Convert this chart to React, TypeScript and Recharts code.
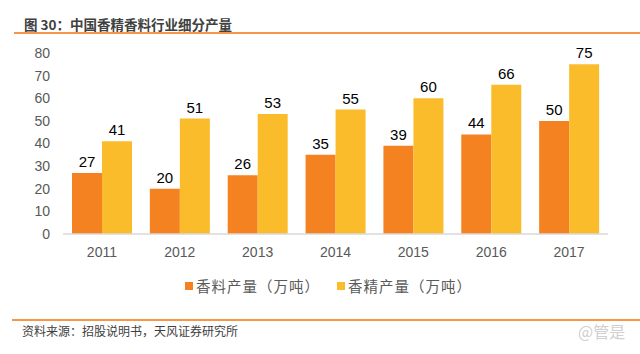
import React from 'react';
import { BarChart, Bar, XAxis, YAxis, Legend, LabelList } from 'recharts';

const years = ['2011', '2012', '2013', '2014', '2015', '2016', '2017'];
const spiceOutput = [27, 20, 26, 35, 39, 44, 50];
const flavorOutput = [41, 51, 53, 55, 60, 66, 75];
const yTicks = [0, 10, 20, 30, 40, 50, 60, 70, 80];

const seriesNames = { spice: '香料产量（万吨）', flavor: '香精产量（万吨）' };
const ORANGE = '#F58220';
const YELLOW = '#FBBC2C';
const CJK = '"Noto Sans CJK SC", "Liberation Sans", sans-serif';

const data = years.map((y, i) => ({ year: y, spice: spiceOutput[i], flavor: flavorOutput[i] }));

// legend drawn by hand so the squares and spacing match the picture
const renderLegend = () => (
  <div style={{ display: 'flex', alignItems: 'center', fontFamily: CJK, fontSize: 14.5, letterSpacing: 1, color: '#595959' }}>
    <span style={{ width: 8, height: 8, background: ORANGE, marginRight: 3 }} />
    <span style={{ marginRight: 17 }}>{seriesNames.spice}</span>
    <span style={{ width: 8, height: 8, background: YELLOW, marginRight: 3 }} />
    <span>{seriesNames.flavor}</span>
  </div>
);

export default function App() {
  return (
    <div style={{ position: 'absolute', left: 0, top: 0, width: 640, height: 354, background: '#fff', overflow: 'hidden' }}>
      <div style={{ position: 'absolute', left: 24, top: 14, fontFamily: CJK, fontSize: 13.5, fontWeight: 700, color: '#404040', lineHeight: '20px' }}>
        图 30：中国香精香料行业细分产量
      </div>
      <div style={{ position: 'absolute', left: 14, top: 32, width: 626, height: 2, background: '#F79646' }} />

      <BarChart
        width={640}
        height={354}
        data={data}
        margin={{ top: 53, right: 32, bottom: 90, left: 0 }}
        barCategoryGap={9}
        barGap={0}
        style={{ position: 'absolute', left: 0, top: 0 }}
      >
        <XAxis
          dataKey="year"
          height={30}
          tickLine={false}
          axisLine={{ stroke: '#d9d9d9', strokeWidth: 1.5 }}
          tickMargin={7}
          tick={{ fontSize: 14, fill: '#595959', fontFamily: '"Liberation Sans", Arial, sans-serif' }}
        />
        <YAxis
          width={63}
          domain={[0, 80]}
          ticks={yTicks}
          interval={0}
          tickLine={false}
          axisLine={false}
          tickMargin={7}
          tick={{ fontSize: 14, fill: '#595959', fontFamily: '"Liberation Sans", Arial, sans-serif' }}
        />
        <Legend
          layout="horizontal"
          verticalAlign="middle"
          align="center"
          content={renderLegend}
          wrapperStyle={{ top: 275, left: 185, width: 320 }}
        />
        <Bar dataKey="spice" name={seriesNames.spice} fill={ORANGE} isAnimationActive={false}>
          <LabelList dataKey="spice" position="top" offset={6} fill="#000" fontSize={15} fontFamily='"Liberation Sans", Arial, sans-serif' />
        </Bar>
        <Bar dataKey="flavor" name={seriesNames.flavor} fill={YELLOW} isAnimationActive={false}>
          <LabelList dataKey="flavor" position="top" offset={6} fill="#000" fontSize={15} fontFamily='"Liberation Sans", Arial, sans-serif' />
        </Bar>
      </BarChart>

      <div style={{ position: 'absolute', left: 12, top: 319, width: 628, height: 2, background: '#F79646' }} />
      <div style={{ position: 'absolute', left: 22, top: 322, fontFamily: CJK, fontSize: 12, color: '#404040', lineHeight: '18px' }}>
        资料来源：招股说明书，天风证券研究所
      </div>
      <div style={{ position: 'absolute', left: 578, top: 320, fontFamily: CJK, fontSize: 16, color: '#d0d0d0', lineHeight: '22px' }}>
        @管是
      </div>
    </div>
  );
}
